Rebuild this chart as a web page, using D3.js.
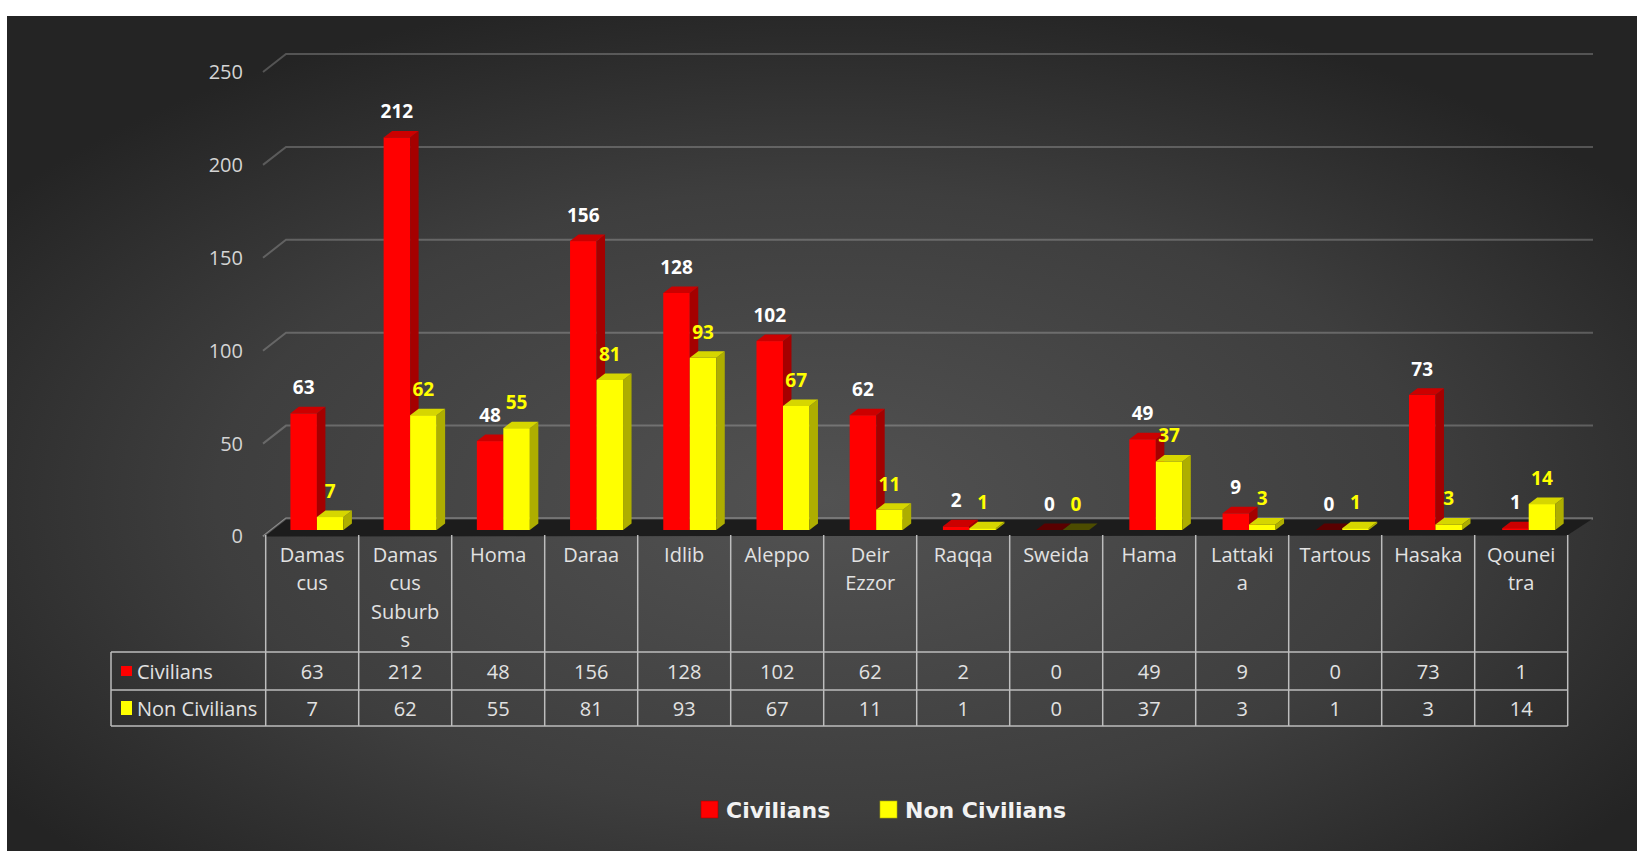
<!DOCTYPE html>
<html><head><meta charset="utf-8">
<script src="https://cdn.jsdelivr.net/npm/d3@7"></script>
<style>html,body{margin:0;padding:0;background:#fff;} svg{display:block;}</style>
</head><body>
<svg id="chart" width="1637" height="851"></svg>
<script>
const categories = ["Damascus","Damascus Suburbs","Homa","Daraa","Idlib","Aleppo","Deir Ezzor","Raqqa","Sweida","Hama","Lattakia","Tartous","Hasaka","Qouneitra"];
const categoryLabelLines = [["Damas","cus"],["Damas","cus","Suburb","s"],["Homa"],["Daraa"],["Idlib"],["Aleppo"],["Deir","Ezzor"],["Raqqa"],["Sweida"],["Hama"],["Lattaki","a"],["Tartous"],["Hasaka"],["Qounei","tra"]];
const civilians    = [63,212,48,156,128,102,62,2,0,49,9,0,73,1];
const nonCivilians = [7,62,55,81,93,67,11,1,0,37,3,1,3,14];
const seriesNames = ["Civilians","Non Civilians"];
const yTicks = [0,50,100,150,200,250];

const seriesValues = [civilians, nonCivilians];
const colors = {
  "Civilians":     {front:"#ff0000", top:"#cc0000", side:"#a50000", zero:"#5a0000", label:"#ffffff"},
  "Non Civilians": {front:"#ffff00", top:"#d6d600", side:"#aeae00", zero:"#4c4c00", label:"#ffff00"}
};

const svg = d3.select("#chart");
const defs = svg.append("defs");
const grad = defs.append("radialGradient").attr("id","bg")
  .attr("cx","50%").attr("cy","58%").attr("r","62%");
grad.append("stop").attr("offset","0%").attr("stop-color","#525252");
grad.append("stop").attr("offset","60%").attr("stop-color","#3e3e3e");
grad.append("stop").attr("offset","100%").attr("stop-color","#242424");

svg.append("rect").attr("x",7).attr("y",16).attr("width",1630).attr("height",835).attr("fill","url(#bg)");

// scales
const yBack  = d3.scaleLinear().domain([0,250]).range([518.5,54]);
const yFront = d3.scaleLinear().domain([0,250]).range([536.5,72]);
const yBar   = d3.scaleLinear().domain([0,250]).range([530,67]);
const xCol   = d3.scaleBand().domain(categories).range([265.7,1567.7]);
const xBar   = d3.scaleBand().domain(categories).range([270.3,1575.3]);
const xSer   = d3.scaleBand().domain(seriesNames).range([-26.5,26.5]);
const depthX = 8.5, depthY = -6.5;
const backLeft = 286, backRight = 1593, frontLeft = 263, frontRight = 1567;

const FONT = "'Open Sans', sans-serif";

// gridlines
const grid = svg.append("g");
grid.selectAll("path").data(yTicks).join("path")
  .attr("d", v => `M${frontLeft},${yFront(v)} L${backLeft},${yBack(v)} L${backRight},${yBack(v)}`)
  .attr("fill","none").attr("stroke","rgba(255,255,255,0.22)").attr("stroke-width",2);

// y axis labels
const yAxis = d3.axisLeft(yFront).tickValues(yTicks).tickSize(0).tickPadding(0);
const ya = svg.append("g").attr("transform","translate(243,0)").call(yAxis);
ya.select(".domain").remove();
ya.selectAll("text").attr("font-family",FONT).attr("font-size",20).attr("fill","#d4d4d4");

// floor
svg.append("path")
  .attr("d",`M${backLeft},${yBack(0)} L${backRight},${yBack(0)} L${frontRight},${yFront(0)-1} L${frontLeft},${yFront(0)} Z`)
  .attr("fill","#1c1c1c");
svg.append("path")
  .attr("d",`M${frontLeft},${yFront(0)} L${backLeft},${yBack(0)} L${backRight},${yBack(0)}`)
  .attr("fill","none").attr("stroke","rgba(255,255,255,0.25)").attr("stroke-width",2);

// bars
const barData = [];
categories.forEach((c,i) => {
  seriesNames.forEach((s,j) => barData.push({c, s, v: seriesValues[j][i]}));
});
const bw = xSer.bandwidth();
const bars = svg.append("g").selectAll("g").data(barData).join("g");
bars.each(function(d){
  const g = d3.select(this);
  const col = colors[d.s];
  const x0 = xBar(d.c) + xBar.bandwidth()/2 + xSer(d.s);
  const yt = yBar(d.v), yb = yBar(0);
  if (d.v > 0) {
    g.append("rect").attr("x",x0).attr("y",yt).attr("width",bw).attr("height",yb-yt).attr("fill",col.front);
    g.append("path").attr("d",`M${x0+bw},${yt} L${x0+bw+depthX},${yt+depthY} L${x0+bw+depthX},${yb+depthY} L${x0+bw},${yb} Z`).attr("fill",col.side);
  }
  g.append("path").attr("d",`M${x0},${yt} L${x0+depthX},${yt+depthY} L${x0+bw+depthX},${yt+depthY} L${x0+bw},${yt} Z`)
    .attr("fill", d.v > 0 ? col.top : col.zero);
});

// value labels
svg.append("g").selectAll("text").data(barData).join("text")
  .attr("x", d => xBar(d.c) + xBar.bandwidth()/2 + xSer(d.s) + bw/2)
  .attr("y", d => yBar(d.v) - 26)
  .attr("text-anchor","middle").attr("dominant-baseline","central")
  .attr("font-family",FONT).attr("font-weight",700).attr("font-size",19)
  .attr("fill", d => colors[d.s].label)
  .text(d => d.v);

// data table
const tbl = svg.append("g").attr("stroke","#bdbdbd").attr("stroke-width",1.5);
const rowTop = 652, rowMid = 690, rowBot = 726, tableLeft = 111, headerTop = 535;
const colEdges = categories.map(c => xCol(c)).concat([xCol(categories[categories.length-1]) + xCol.bandwidth()]);
tbl.selectAll("line.v").data(colEdges).join("line")
  .attr("x1",d=>d).attr("x2",d=>d).attr("y1",headerTop).attr("y2",rowBot);
tbl.selectAll("line.h").data([rowTop,rowMid,rowBot]).join("line").attr("class","h")
  .attr("x1",tableLeft).attr("x2",colEdges[colEdges.length-1]).attr("y1",d=>d).attr("y2",d=>d);
tbl.append("line").attr("x1",tableLeft).attr("x2",tableLeft).attr("y1",rowTop).attr("y2",rowBot);

// category labels
const catG = svg.append("g").selectAll("text").data(categories).join("text")
  .attr("text-anchor","middle").attr("font-family",FONT).attr("font-size",20).attr("fill","#e2e2e2");
catG.each(function(c,i){
  const t = d3.select(this);
  categoryLabelLines[i].forEach((ln,k) => {
    t.append("tspan").attr("x", xCol(c)+xCol.bandwidth()/2).attr("y", 554 + k*28.5)
      .attr("dominant-baseline","central").text(ln);
  });
});

// table values
const rowCenters = [(rowTop+rowMid)/2, (rowMid+rowBot)/2];
seriesNames.forEach((s,j) => {
  svg.append("g").selectAll("text").data(categories).join("text")
    .attr("x", c => xCol(c)+xCol.bandwidth()/2).attr("y", rowCenters[j])
    .attr("text-anchor","middle").attr("dominant-baseline","central")
    .attr("font-family",FONT).attr("font-size",20).attr("fill","#e2e2e2")
    .text((c,i) => seriesValues[j][i]);
  svg.append("rect").attr("x",121).attr("y",rowCenters[j]-(j?7:5)).attr("width",11).attr("height",j?14:10)
    .attr("fill",colors[s].front);
  svg.append("text").attr("x",137).attr("y",rowCenters[j]).attr("dominant-baseline","central")
    .attr("font-family",FONT).attr("font-size",20).attr("fill","#e2e2e2").text(s);
});

// legend
const legendX = [701, 880];
const lg = svg.append("g").selectAll("g").data(seriesNames).join("g")
  .attr("transform",(d,i)=>`translate(${legendX[i]},801)`);
lg.append("rect").attr("width",17).attr("height",17).attr("fill",d=>colors[d].front)
  .attr("stroke",d=>colors[d].side).attr("stroke-width",0.6);
lg.append("text").attr("x",25).attr("y",9).attr("dominant-baseline","central")
  .attr("font-family","'DejaVu Sans', sans-serif").attr("font-weight",700).attr("font-size",22)
  .attr("fill","#f2f2f2").text(d=>d);
</script>
</body></html>
